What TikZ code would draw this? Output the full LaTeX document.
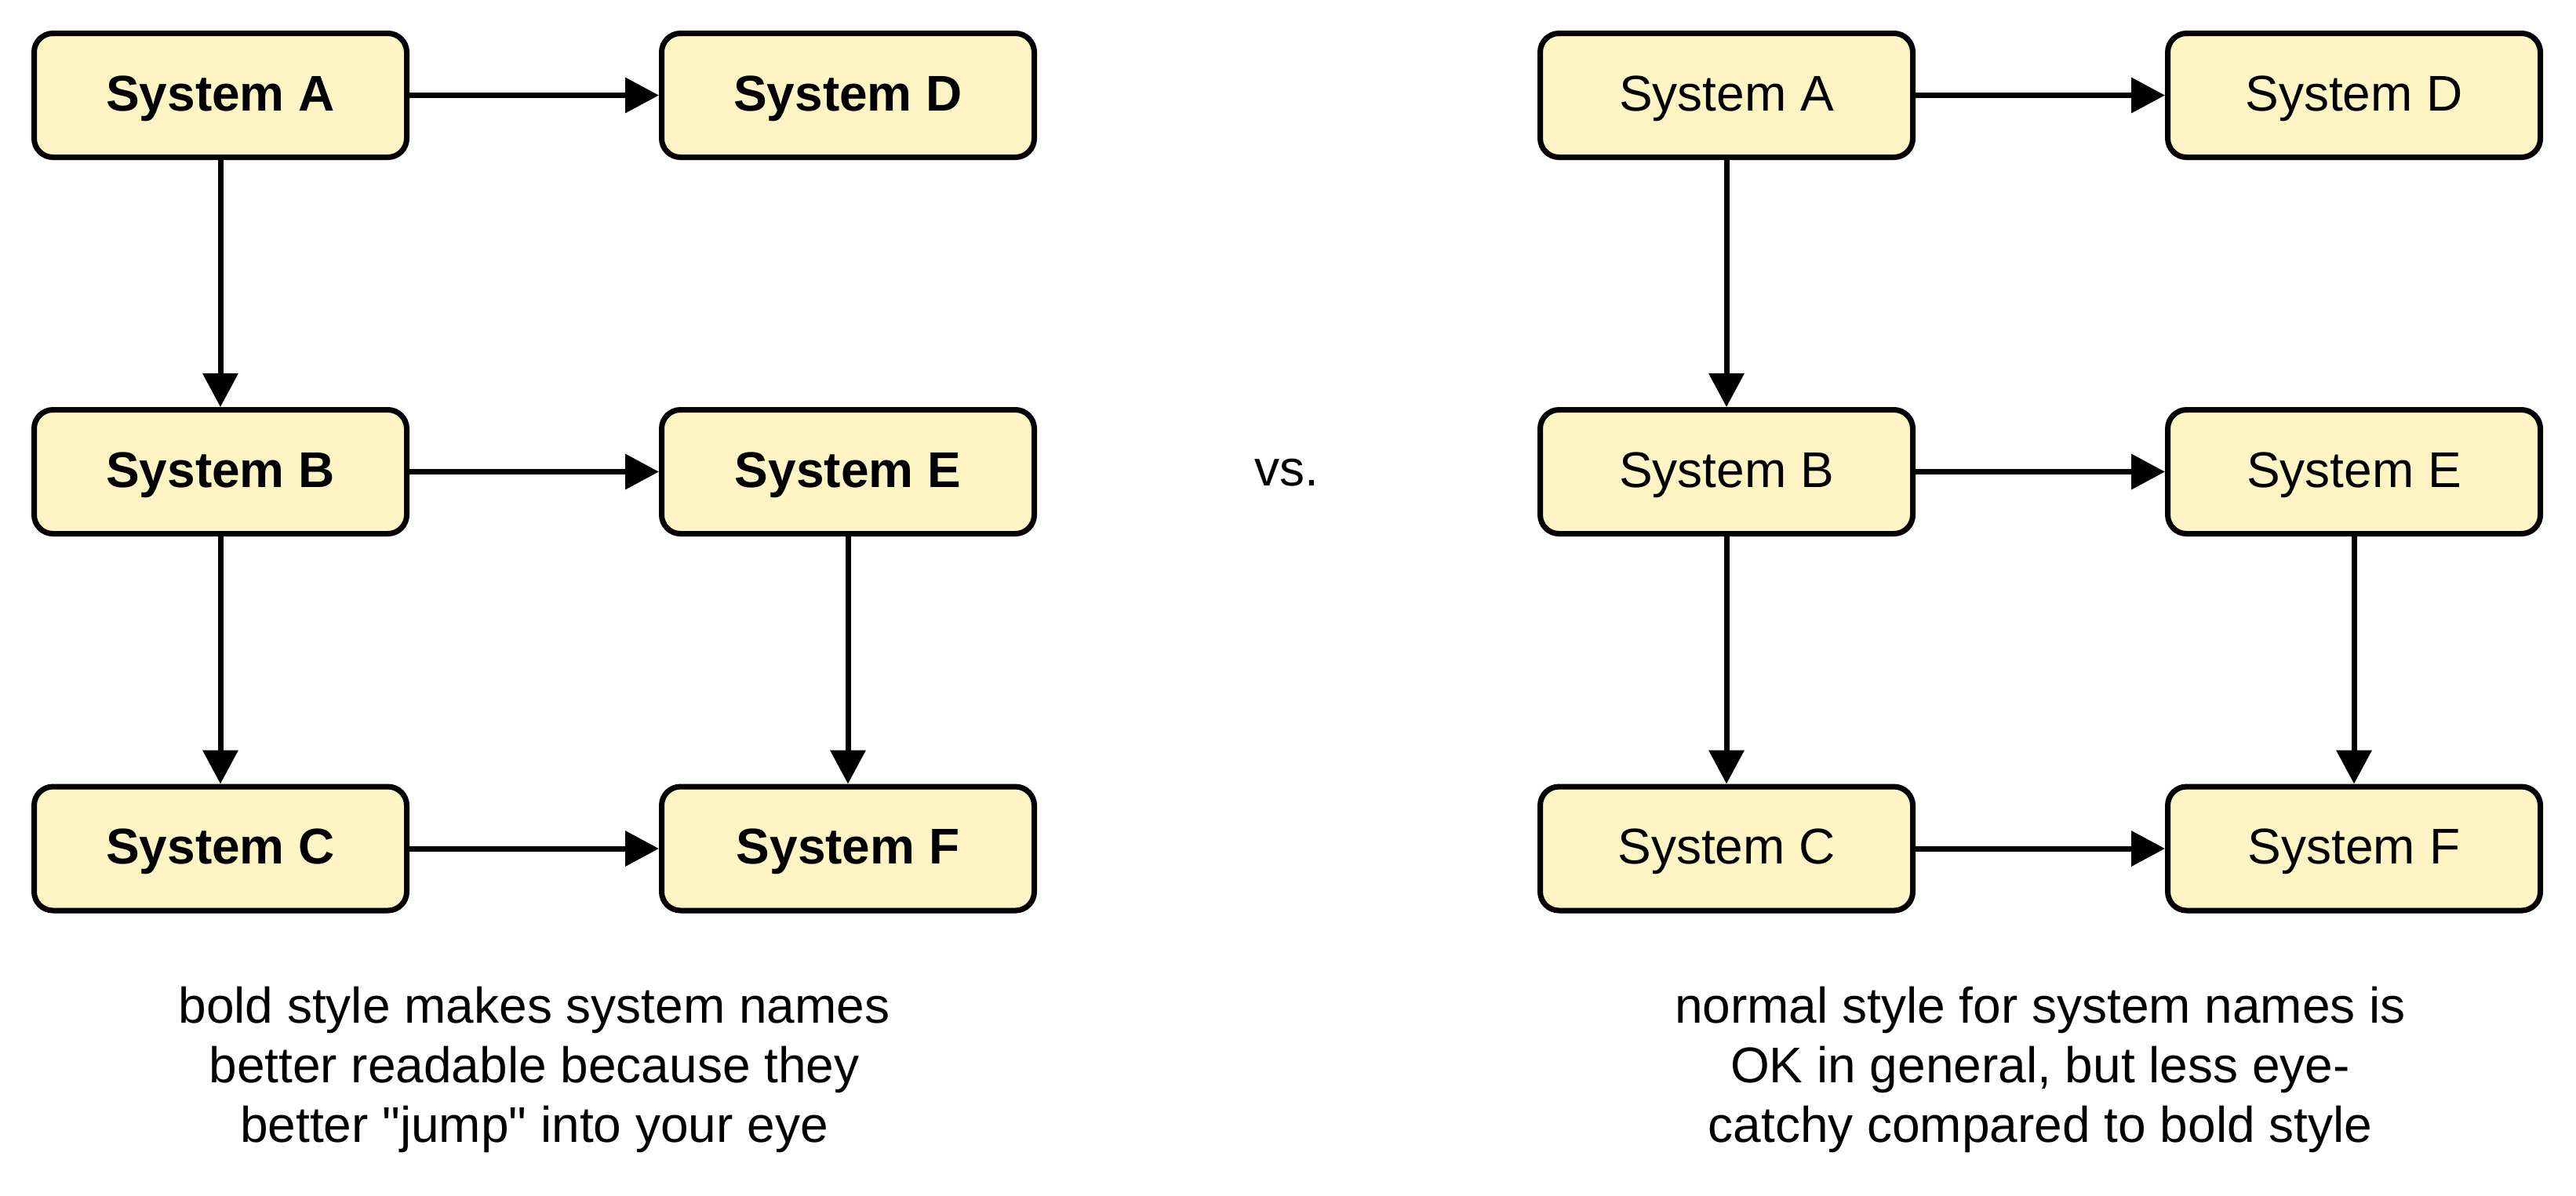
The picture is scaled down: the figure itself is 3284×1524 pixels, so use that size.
\documentclass[tikz,border=0pt]{standalone}
\usepackage{fontspec}
\setmainfont{Liberation Sans}[Ligatures=TeXReset]
\usetikzlibrary{arrows.meta}
\definecolor{boxfill}{HTML}{FFF4C3}
\begin{document}
\begin{tikzpicture}[x=0.25pt,y=-0.25pt,
  sysbox/.style={draw=black, fill=boxfill, line width=1.75pt, rounded corners=6pt,
    minimum width=118.75pt, minimum height=39.5pt, inner sep=0pt,
    text height=11.7pt, text depth=1.9pt,
    font=\fontsize{16}{19}\selectfont},
  boldbox/.style={sysbox, font=\fontsize{16}{19}\selectfont\bfseries},
  conn/.style={line width=1.75pt, -{Triangle[length=10.75pt,width=11pt]}},
  captext/.style={align=center, anchor=north, inner sep=0pt,
    font=\fontsize{16}{19}\selectfont}]
\useasboundingbox (0,0) rectangle (3284,1524);
% left (bold)
\node[boldbox] (lA) at (281,121.5) {System A};
\node[boldbox] (lD) at (1081,121.5) {System D};
\node[boldbox] (lB) at (281,601.5) {System B};
\node[boldbox] (lE) at (1081,601.5) {System E};
\node[boldbox] (lC) at (281,1082) {System C};
\node[boldbox] (lF) at (1081,1082) {System F};
\draw[conn] (lA) -- (lD);
\draw[conn] (lB) -- (lE);
\draw[conn] (lC) -- (lF);
\draw[conn] (lA) -- (lB);
\draw[conn] (lB) -- (lC);
\draw[conn] (lE) -- (lF);
% right (normal)
\node[sysbox] (rA) at (2201,121.5) {System A};
\node[sysbox] (rD) at (3001,121.5) {System D};
\node[sysbox] (rB) at (2201,601.5) {System B};
\node[sysbox] (rE) at (3001,601.5) {System E};
\node[sysbox] (rC) at (2201,1082) {System C};
\node[sysbox] (rF) at (3001,1082) {System F};
\draw[conn] (rA) -- (rD);
\draw[conn] (rB) -- (rE);
\draw[conn] (rC) -- (rF);
\draw[conn] (rA) -- (rB);
\draw[conn] (rB) -- (rC);
\draw[conn] (rE) -- (rF);
% texts
\node[inner sep=0pt, font=\fontsize{16}{19}\selectfont] (vs) at (1640,603) {vs.};
\node[captext] (lcap) at (681,1257) {bold style makes system names\\better readable because they\\better "jump" into your eye};
\node[captext] (rcap) at (2601,1257) {normal style for system names is\\OK in general, but less eye-\\catchy compared to bold style};
\end{tikzpicture}
\end{document}
